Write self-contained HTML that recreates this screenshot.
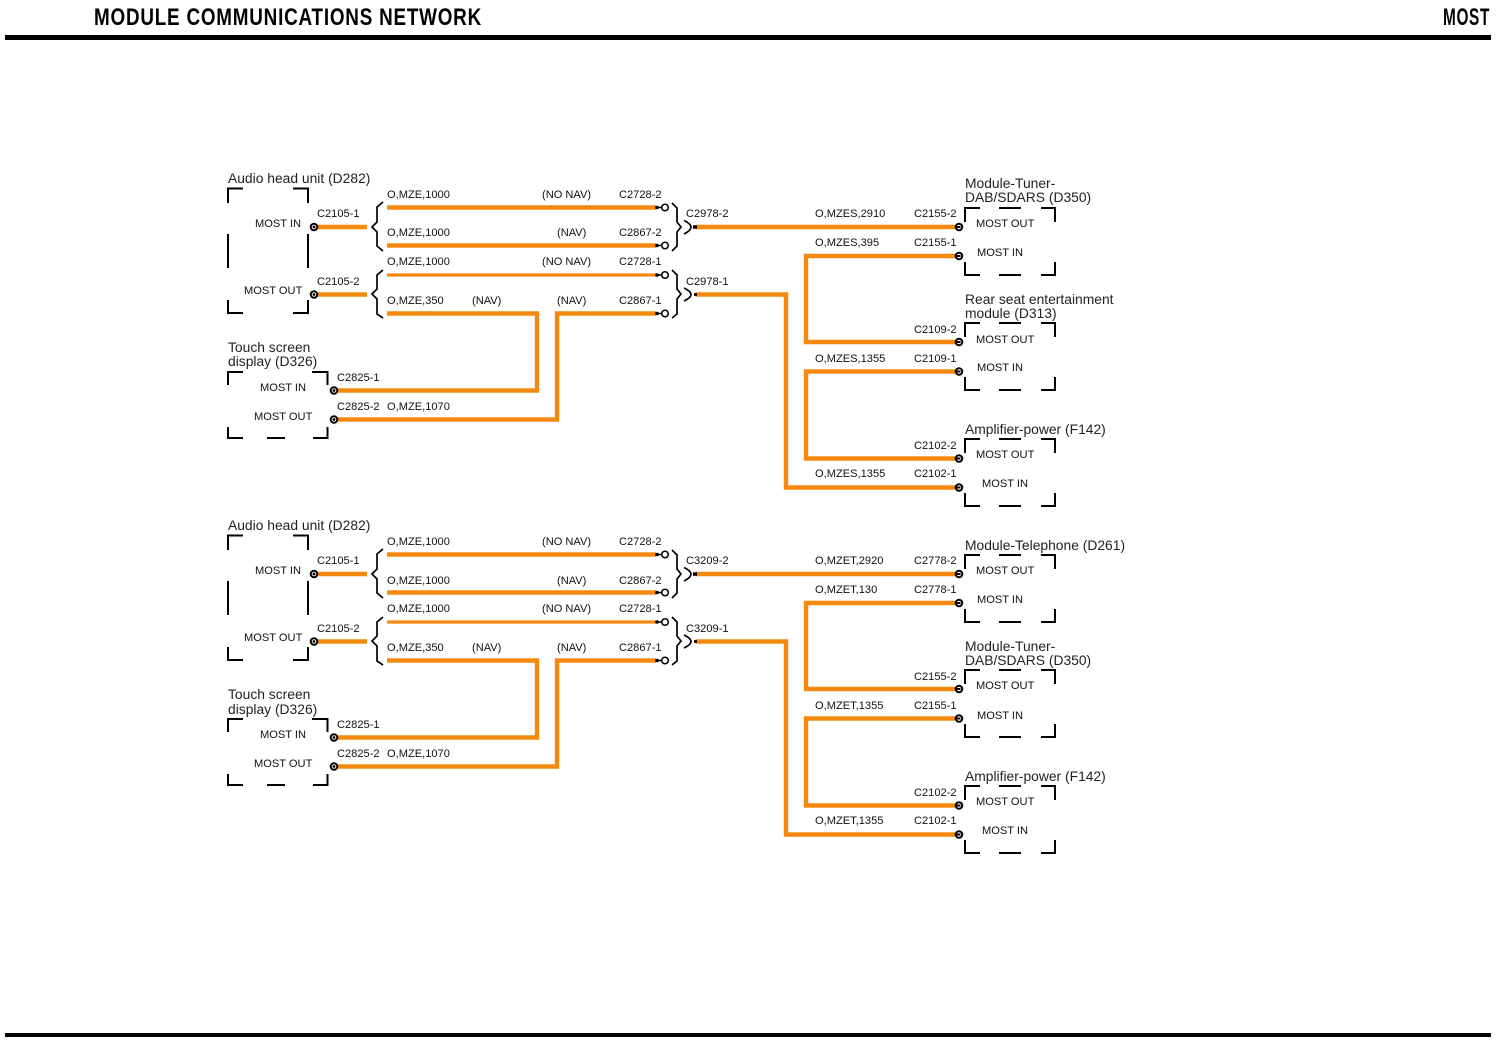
<!DOCTYPE html>
<html>
<head>
<meta charset="utf-8">
<style>
html,body{margin:0;padding:0;background:#fff;width:1512px;height:1041px;overflow:hidden}
svg{display:block}
text{font-family:"Liberation Sans",sans-serif;fill:#111}
.s{font-size:11.1px}
.t{font-size:13.85px;fill:#222}
.h{font-weight:bold;font-size:24px;fill:#000;letter-spacing:1px}
.w{fill:none;stroke:#f5890f;stroke-width:4.4}
.b{fill:none;stroke:#000;stroke-width:2}
.k{fill:none;stroke:#000;stroke-width:1.7}
</style>
</head>
<body>
<svg width="1512" height="1041" viewBox="0 0 1512 1041" xmlns="http://www.w3.org/2000/svg">
<rect width="1512" height="1041" fill="#fff"/>
<rect x="5" y="35" width="1486" height="5" fill="#000"/>
<rect x="5" y="1033" width="1486" height="4" fill="#000"/>
<text class="h" x="94" y="25" textLength="388" lengthAdjust="spacingAndGlyphs">MODULE COMMUNICATIONS NETWORK</text>
<text class="h" x="1443" y="25" textLength="47" lengthAdjust="spacingAndGlyphs">MOST</text>

<defs>
<g id="cl"><circle cx="0" cy="0" r="3.3" fill="#fff" stroke="#000" stroke-width="2"/><circle cx="0" cy="0" r="1.4" fill="#000"/></g>
<g id="cr"><circle cx="0" cy="0" r="3.3" fill="#fff" stroke="#000" stroke-width="2"/><path d="M-3.500,0H1.500" stroke="#000" stroke-width="2"/></g>
<g id="ce"><path d="M-9,0H-3" stroke="#000" stroke-width="1.5"/><circle cx="-8" cy="0" r="1.8" fill="#000"/><circle cx="0" cy="0" r="3.3" fill="#fff" stroke="#000" stroke-width="1.5"/></g>
<g id="geo">
  <!-- wires -->
  <path class="w" d="M318,227H367M318,294.500H367"/>
  <path class="w" d="M387,207.500H656M387,245.500H656"/>
  <path class="w" style="stroke-width:3.200" d="M387,275H656"/>
  <path class="w" d="M387,313.500H537V390.500H338M656,313.500H557V419.500H338"/>
  <path class="w" d="M696,227H955"/>
  <path class="w" d="M955,256H806V342H955M955,371.500H806V458.500H955M696,294.500H786V487.500H955"/>

  <!-- left braces -->
  <path class="k" d="M383,202L377,207V222L372,227L377,232V246L383,251"/>
  <path class="k" d="M383,270L377,275V289L372,294L377,299V314L383,318"/>
  <!-- right braces -->
  <path class="k" d="M672,203L677,208V222L681,227L677,232V246L672,251"/>
  <path class="k" d="M672,270L677,275V289L681,294L677,299V314L672,318"/>
  <!-- Y connectors -->
  <path class="k" d="M684,220.500Q698,227 684,234"/><rect x="693" y="225.300" width="4" height="3.500" fill="#000"/>
  <path class="k" d="M684,288Q698,294.500 684,301"/><circle cx="695.500" cy="294.500" r="1.6" fill="#000"/>
  <!-- end pins -->
  <use href="#ce" x="665" y="207.500"/><use href="#ce" x="665" y="245.500"/>
  <use href="#ce" x="665" y="275"/><use href="#ce" x="665" y="313.500"/>
  <!-- left pins -->
  <use href="#cl" x="314" y="227"/><use href="#cl" x="314" y="294.500"/>
  <use href="#cl" x="334" y="390.500"/><use href="#cl" x="334" y="419.500"/>
  <!-- right pins -->
  <use href="#cr" x="959" y="227"/><use href="#cr" x="959" y="256"/>
  <use href="#cr" x="959" y="342"/><use href="#cr" x="959" y="371.500"/>
  <use href="#cr" x="959" y="458.500"/><use href="#cr" x="959" y="487.500"/>

  <!-- Audio box -->
  <path class="b" d="M228,203V188.500H243M293,188.500H308V203M228,234V268M308,234V268M228,300V313H243M293,313H308V300"/>
  <!-- Touch box -->
  <path class="b" d="M228,385V372H243M312,372H327.500V385M228,427V438H243M267,438H285M313,438H327.500V427"/>
  <!-- Right boxes -->
  <path class="b" d="M965,222V208H980M999,208H1021M1041,208H1055V222M965,262V275H980M999,275H1021M1041,275H1055V262"/>
  <path class="b" d="M965,337V323H980M999,323H1021M1041,323H1055V337M965,377V390H980M999,390H1021M1041,390H1055V377"/>
  <path class="b" d="M965,453V439H980M999,439H1021M1041,439H1055V453M965,493V506H980M999,506H1021M1041,506H1055V493"/>
</g>
</defs>
<use href="#geo"/>
<use href="#geo" y="347"/>

<!-- Block 1 text -->
<text class="t" x="228" y="183">Audio head unit (D282)</text>
<text class="s" x="255" y="227">MOST IN</text>
<text class="s" x="244" y="294">MOST OUT</text>
<text class="s" x="317" y="217">C2105-1</text>
<text class="s" x="317" y="285">C2105-2</text>
<text class="s" x="387" y="198">O,MZE,1000</text>
<text class="s" x="387" y="236">O,MZE,1000</text>
<text class="s" x="387" y="265">O,MZE,1000</text>
<text class="s" x="387" y="304">O,MZE,350</text>
<text class="s" x="472" y="304">(NAV)</text>
<text class="s" x="542" y="198">(NO NAV)</text>
<text class="s" x="557" y="236">(NAV)</text>
<text class="s" x="542" y="265">(NO NAV)</text>
<text class="s" x="557" y="304">(NAV)</text>
<text class="s" x="619" y="198">C2728-2</text>
<text class="s" x="619" y="236">C2867-2</text>
<text class="s" x="619" y="265">C2728-1</text>
<text class="s" x="619" y="304">C2867-1</text>
<text class="s" x="686" y="217">C2978-2</text>
<text class="s" x="686" y="285">C2978-1</text>
<text class="t" x="228" y="352">Touch screen</text>
<text class="t" x="228" y="366">display (D326)</text>
<text class="s" x="260" y="391">MOST IN</text>
<text class="s" x="254" y="420">MOST OUT</text>
<text class="s" x="337" y="381">C2825-1</text>
<text class="s" x="337" y="410">C2825-2</text>
<text class="s" x="387" y="410">O,MZE,1070</text>
<text class="s" x="815" y="217">O,MZES,2910</text>
<text class="s" x="914" y="217">C2155-2</text>
<text class="s" x="815" y="246">O,MZES,395</text>
<text class="s" x="914" y="246">C2155-1</text>
<text class="t" x="965" y="188">Module-Tuner-</text>
<text class="t" x="965" y="202">DAB/SDARS (D350)</text>
<text class="s" x="976" y="227">MOST OUT</text>
<text class="s" x="977" y="256">MOST IN</text>
<text class="t" x="965" y="304">Rear seat entertainment</text>
<text class="t" x="965" y="318">module (D313)</text>
<text class="s" x="914" y="333">C2109-2</text>
<text class="s" x="976" y="343">MOST OUT</text>
<text class="s" x="815" y="362">O,MZES,1355</text>
<text class="s" x="914" y="362">C2109-1</text>
<text class="s" x="977" y="371">MOST IN</text>
<text class="t" x="965" y="434">Amplifier-power (F142)</text>
<text class="s" x="914" y="449">C2102-2</text>
<text class="s" x="976" y="458">MOST OUT</text>
<text class="s" x="815" y="477">O,MZES,1355</text>
<text class="s" x="914" y="477">C2102-1</text>
<text class="s" x="982" y="487">MOST IN</text>

<!-- Block 2 text -->
<text class="t" x="228" y="530">Audio head unit (D282)</text>
<text class="s" x="255" y="574">MOST IN</text>
<text class="s" x="244" y="641">MOST OUT</text>
<text class="s" x="317" y="564">C2105-1</text>
<text class="s" x="317" y="632">C2105-2</text>
<text class="s" x="387" y="545">O,MZE,1000</text>
<text class="s" x="387" y="584">O,MZE,1000</text>
<text class="s" x="387" y="612">O,MZE,1000</text>
<text class="s" x="387" y="651">O,MZE,350</text>
<text class="s" x="472" y="651">(NAV)</text>
<text class="s" x="542" y="545">(NO NAV)</text>
<text class="s" x="557" y="584">(NAV)</text>
<text class="s" x="542" y="612">(NO NAV)</text>
<text class="s" x="557" y="651">(NAV)</text>
<text class="s" x="619" y="545">C2728-2</text>
<text class="s" x="619" y="584">C2867-2</text>
<text class="s" x="619" y="612">C2728-1</text>
<text class="s" x="619" y="651">C2867-1</text>
<text class="s" x="686" y="564">C3209-2</text>
<text class="s" x="686" y="632">C3209-1</text>
<text class="t" x="228" y="699">Touch screen</text>
<text class="t" x="228" y="714">display (D326)</text>
<text class="s" x="260" y="738">MOST IN</text>
<text class="s" x="254" y="767">MOST OUT</text>
<text class="s" x="337" y="728">C2825-1</text>
<text class="s" x="337" y="757">C2825-2</text>
<text class="s" x="387" y="757">O,MZE,1070</text>
<text class="s" x="815" y="564">O,MZET,2920</text>
<text class="s" x="914" y="564">C2778-2</text>
<text class="s" x="815" y="593">O,MZET,130</text>
<text class="s" x="914" y="593">C2778-1</text>
<text class="t" x="965" y="550">Module-Telephone (D261)</text>
<text class="s" x="976" y="574">MOST OUT</text>
<text class="s" x="977" y="603">MOST IN</text>
<text class="t" x="965" y="651">Module-Tuner-</text>
<text class="t" x="965" y="665">DAB/SDARS (D350)</text>
<text class="s" x="914" y="680">C2155-2</text>
<text class="s" x="976" y="689">MOST OUT</text>
<text class="s" x="815" y="709">O,MZET,1355</text>
<text class="s" x="914" y="709">C2155-1</text>
<text class="s" x="977" y="719">MOST IN</text>
<text class="t" x="965" y="781">Amplifier-power (F142)</text>
<text class="s" x="914" y="796">C2102-2</text>
<text class="s" x="976" y="805">MOST OUT</text>
<text class="s" x="815" y="824">O,MZET,1355</text>
<text class="s" x="914" y="824">C2102-1</text>
<text class="s" x="982" y="834">MOST IN</text>
</svg>
</body>
</html>
